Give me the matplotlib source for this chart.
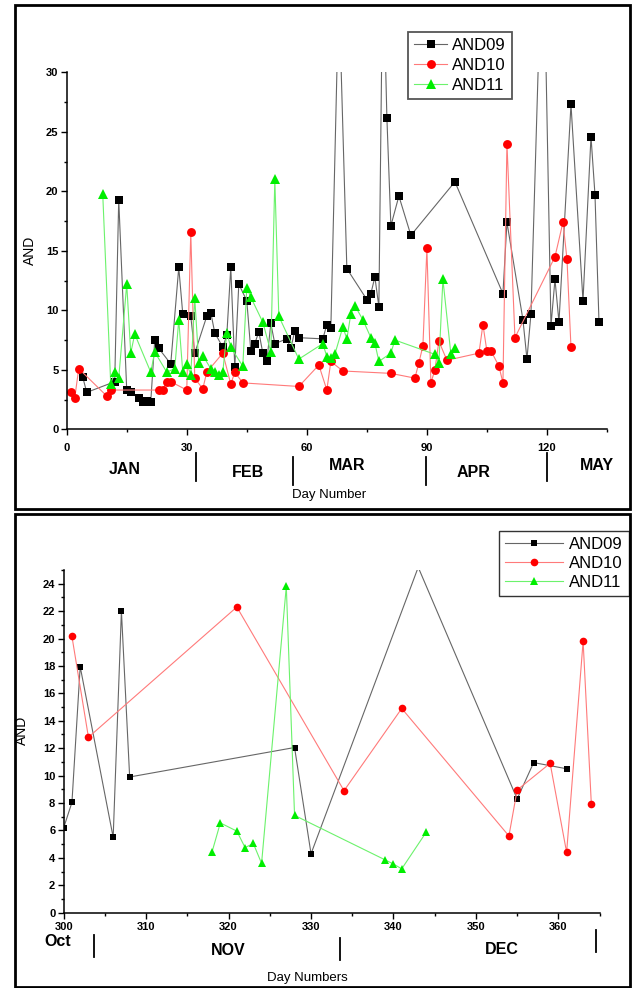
import numpy as np
import matplotlib
matplotlib.use("Agg")
import matplotlib.pyplot as plt
from matplotlib.lines import Line2D
from matplotlib.patches import Rectangle
from matplotlib.ticker import MultipleLocator

plt.rcParams['font.family'] = ['Liberation Sans', 'DejaVu Sans']

# ---- top panel: Jan - May (day number) ----
days09_a = [4, 5, 12, 13, 15, 16, 18, 19, 20, 21, 22, 23, 26, 28, 29, 31, 32, 35, 36, 37,
            39, 40, 41, 42, 43, 45, 46, 47, 48, 49, 50, 51, 52, 55, 56, 57, 58, 64, 65, 66,
            68, 70, 75, 76, 77, 78, 79, 80, 81, 83, 86, 97, 109, 110, 114, 115, 116, 119, 121,
            122, 123, 126, 129, 131, 132, 133]
vals09_a = [4.4, 3.1, 4.0, 19.3, 3.3, 3.1, 2.6, 2.3, 2.4, 2.3, 7.5, 6.8, 5.5, 13.6, 9.7, 9.5,
            6.4, 9.5, 9.8, 8.1, 6.9, 7.9, 13.6, 5.2, 12.2, 10.8, 6.6, 7.2, 8.2, 6.4, 5.7, 8.9,
            7.2, 7.6, 6.8, 8.3, 7.7, 7.6, 8.8, 8.5, 37.0, 13.5, 10.9, 11.4, 12.8, 10.3, 40.0,
            26.2, 17.1, 19.6, 16.3, 20.8, 11.4, 17.4, 9.2, 5.9, 9.7, 44.0, 8.7, 12.6, 9.0,
            27.3, 10.8, 24.6, 19.7, 9.0]

days10_a = [1, 2, 3, 10, 11, 23, 24, 25, 26, 30, 31, 32, 34, 35, 39, 41, 42, 44, 58, 63,
            65, 66, 69, 81, 87, 88, 89, 90, 91, 92, 93, 95, 103, 104, 105, 106, 108, 109,
            110, 112, 122, 124, 125, 126]
vals10_a = [3.1, 2.6, 5.1, 2.8, 3.3, 3.3, 3.3, 4.0, 4.0, 3.3, 16.6, 4.3, 3.4, 4.8, 6.4, 3.8,
            4.8, 3.9, 3.6, 5.4, 3.3, 5.7, 4.9, 4.7, 4.3, 5.6, 7.0, 15.2, 3.9, 5.0, 7.4, 5.8,
            6.4, 8.8, 6.55, 6.6, 5.3, 3.9, 24.0, 7.7, 14.5, 17.4, 14.3, 6.9]

days11_a = [9, 11, 12, 13, 15, 16, 17, 21, 22, 25, 27, 28, 29, 30, 31, 32, 33, 34, 36, 37,
            38, 39, 40, 41, 44, 45, 46, 49, 51, 52, 53, 58, 64, 65, 66, 67, 69, 70, 71, 72,
            74, 76, 77, 78, 81, 82, 92, 93, 94, 96, 97]
vals11_a = [19.8, 3.8, 4.8, 4.3, 12.2, 6.4, 8.0, 4.8, 6.5, 4.8, 5.1, 9.2, 4.8, 5.5, 4.6, 11.0,
            5.6, 6.2, 5.1, 4.8, 4.6, 4.8, 8.1, 6.9, 5.3, 11.9, 11.1, 9.0, 6.5, 21.0, 9.5, 5.9,
            7.2, 6.1, 6.0, 6.3, 8.6, 7.6, 9.7, 10.4, 9.2, 7.7, 7.25, 5.7, 6.4, 7.5, 6.3, 5.6,
            12.6, 6.3, 6.8]

# ---- bottom panel: Oct - Dec ----
days09_b = [300, 301, 302, 306, 307, 308, 328, 330, 343, 355, 357, 361]
vals09_b = [6.2, 8.05, 17.95, 5.5, 22.0, 9.9, 12.05, 4.3, 25.2, 8.3, 10.95, 10.5]
days10_b = [301, 303, 321, 334, 341, 354, 355, 359, 361, 363, 364]
vals10_b = [20.15, 12.8, 22.3, 8.9, 14.9, 5.6, 8.95, 10.9, 4.4, 19.8, 7.9]
days11_b = [318, 319, 321, 322, 323, 324, 327, 328, 339, 340, 341, 344]
vals11_b = [4.45, 6.55, 5.95, 4.75, 5.05, 3.6, 23.8, 7.1, 3.85, 3.55, 3.2, 5.9]

series_names = ['AND09', 'AND10', 'AND11']
months_a = ['JAN', 'FEB', 'MAR', 'APR', 'MAY']
months_b = ['Oct', 'NOV', 'DEC']

W, H = 633, 988


def fx(x):
    return x / W


def fy(y):
    return 1 - y / H


fig = plt.figure(figsize=(W / 100, H / 100), dpi=100)


def style_axes(ax, pad):
    for s in ['top', 'right']:
        ax.spines[s].set_visible(False)
    for s in ['left', 'bottom']:
        ax.spines[s].set_linewidth(1.1)
    ax.tick_params(which='major', direction='out', length=4, width=1, labelsize=8, pad=2)
    ax.tick_params(axis='x', which='major', pad=pad)
    ax.tick_params(which='minor', direction='out', length=2.5, width=1)
    for lab in ax.get_xticklabels() + ax.get_yticklabels():
        lab.set_fontweight('bold')


def plot_sets(ax, data, sizes):
    cols = [('#666666', 'black', 's'), ('#ff7a7a', 'red', 'o'), ('#6cf26c', '#00ee00', '^')]
    for (d, v), (lc, mc, mk), ms, name in zip(data, cols, sizes, series_names):
        ax.plot(d, v, color=lc, lw=0.8, marker=mk, ms=ms, mfc=mc, mec=mc, mew=0, label=name)


def frame(y0, y1):
    fig.add_artist(Rectangle((fx(15), fy(y1)), fx(630) - fx(15), fy(y0) - fy(y1),
                             transform=fig.transFigure, fill=False, lw=2, ec='black'))


def sep(x, y0, y1):
    fig.add_artist(Line2D([fx(x), fx(x)], [fy(y0), fy(y1)], transform=fig.transFigure,
                          color='black', lw=1.3))


# top panel
ax1 = fig.add_axes([fx(66.7), fy(429.3), fx(607) - fx(66.7), fy(72.3) - fy(429.3)])
plot_sets(ax1, [(days09_a, vals09_a), (days10_a, vals10_a), (days11_a, vals11_a)], [5.6, 6.4, 7])
ax1.set_xlim(0, 135)
ax1.set_ylim(0, 30)
ax1.xaxis.set_major_locator(MultipleLocator(30))
ax1.xaxis.set_minor_locator(MultipleLocator(15))
ax1.yaxis.set_major_locator(MultipleLocator(5))
ax1.yaxis.set_minor_locator(MultipleLocator(2.5))
style_axes(ax1, 6)
leg = ax1.legend(loc='upper left', bbox_to_anchor=(fx(408), fy(32)), bbox_transform=fig.transFigure,
                 borderaxespad=0, fancybox=False, edgecolor='#555555', framealpha=1, fontsize=12,
                 handlelength=2.0, handletextpad=0.3, labelspacing=0.3, borderpad=0.35)
leg.get_frame().set_linewidth(1.3)

frame(5, 509)
fig.text(fx(30), fy(250), 'AND', rotation=90, ha='center', va='center', fontsize=10)
for name, x, y in zip(months_a, [125, 248, 347, 474, 597], [470, 472, 465, 472, 465]):
    fig.text(fx(x), fy(y), name, ha='center', va='center', fontsize=11.5, fontweight='bold')
for x, y0, y1 in [(195.5, 453, 481), (292.7, 457, 485), (426, 457, 485), (546.7, 453, 481)]:
    sep(x, y0, y1)
fig.text(fx(329), fy(495), 'Day Number', ha='center', va='center', fontsize=9.5)

# bottom panel
ax2 = fig.add_axes([fx(63.7), fy(912.7), fx(599.6) - fx(63.7), fy(570) - fy(912.7)])
plot_sets(ax2, [(days09_b, vals09_b), (days10_b, vals10_b), (days11_b, vals11_b)], [4.5, 5.5, 6])
ax2.set_xlim(300, 365)
ax2.set_ylim(0, 25)
ax2.xaxis.set_major_locator(MultipleLocator(10))
ax2.xaxis.set_minor_locator(MultipleLocator(5))
ax2.yaxis.set_major_locator(MultipleLocator(2))
ax2.yaxis.set_minor_locator(MultipleLocator(1))
style_axes(ax2, 3)
leg2 = ax2.legend(loc='upper left', bbox_to_anchor=(fx(499), fy(531)), bbox_transform=fig.transFigure,
                  borderaxespad=0, fancybox=False, edgecolor='#333333', framealpha=1, fontsize=12,
                  handlelength=3.5, handletextpad=0.35, labelspacing=0.25, borderpad=0.35)
leg2.get_frame().set_linewidth(1.0)

frame(514, 987)
fig.text(fx(22), fy(730), 'AND', rotation=90, ha='center', va='center', fontsize=10)
for name, x, y in zip(months_b, [58, 228, 502], [942, 950, 949]):
    fig.text(fx(x), fy(y), name, ha='center', va='center', fontsize=11.5, fontweight='bold')
for x, y0, y1 in [(93.5, 935, 957), (339.5, 938, 960), (596, 930, 952)]:
    sep(x, y0, y1)
fig.text(fx(307), fy(978), 'Day Numbers', ha='center', va='center', fontsize=9.5)

fig.savefig('out.png', dpi=100)
